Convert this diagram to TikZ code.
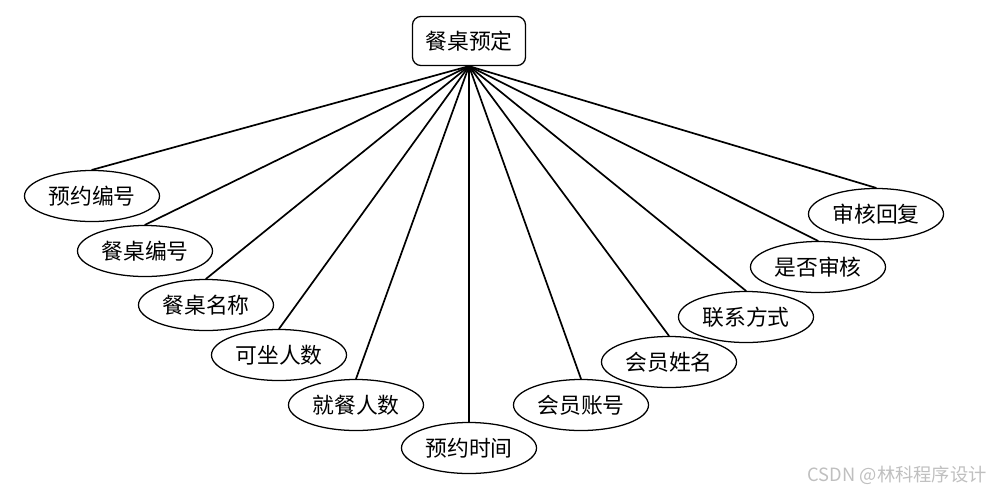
\documentclass[tikz,border=0pt]{standalone}
\usepackage{fontspec}
\newfontfamily\cjk{Noto Sans CJK SC}
\usetikzlibrary{shapes.geometric}
\begin{document}
\begin{tikzpicture}[line join=round, line cap=round, x=.025cm, y=-.025cm,
    attr/.style={draw, ellipse, line width=.9pt, minimum width=3.375cm, minimum height=1.275cm, inner sep=0pt, font=\cjk\fontsize{15.5}{18}\selectfont},
    ent/.style={draw, rounded corners=6pt, line width=.9pt, minimum width=2.825cm, minimum height=1.225cm, inner sep=0pt, font=\cjk\fontsize{15.5}{18}\selectfont}]
        \useasboundingbox (0,0) rectangle (993,495);
        \node[ent] (cz) at (469,41) {餐桌预定};
        \foreach \n/\x/\y/\t in {yybh/92/196/预约编号, czbh/145/251/餐桌编号, czmc/206/305/餐桌名称, kzrs/279/355/可坐人数, jcrs/356/405/就餐人数, yysj/469/448/预约时间, hyzh/581/405/会员账号, hyxm/669/362/会员姓名, lxfs/746/317/联系方式, sfsh/818/267/是否审核, shhf/876/214/审核回复}
        {
            \node[attr] (\n) at (\x,\y) {\t};
            \draw[line width=1.2pt] (cz.south) -- (\n.north);
        }
        \node[text=black!25, font=\cjk\fontsize{13}{15}\selectfont, anchor=east, inner sep=0pt] (wm) at (987,475) {CSDN @林科程序设计};
    \end{tikzpicture}
\end{document}
